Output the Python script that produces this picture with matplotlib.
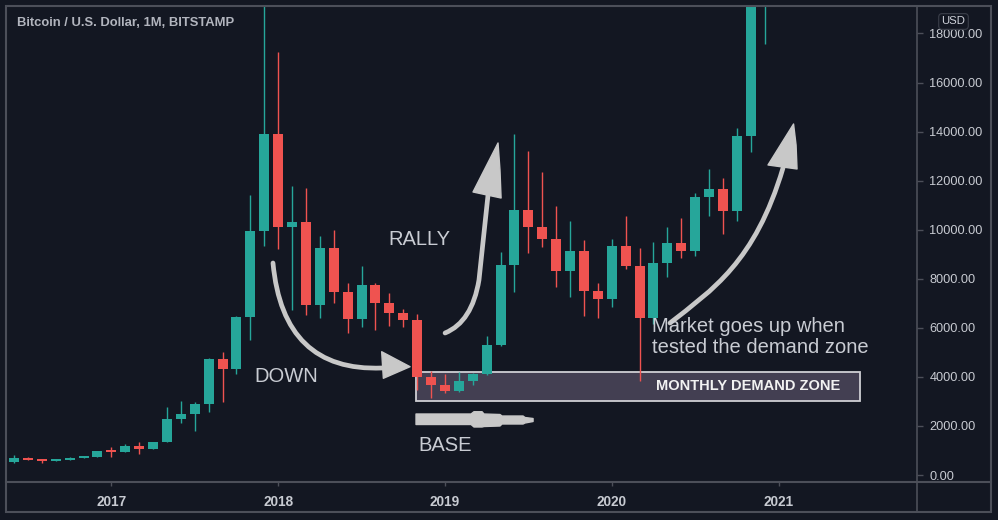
import matplotlib
matplotlib.use("Agg")
import matplotlib.pyplot as plt
from matplotlib.patches import Rectangle, Polygon, PathPatch
from matplotlib.path import Path
from matplotlib.lines import Line2D

# ---------------- data (monthly BTC/USD, Jun 2016 .. Dec 2020) ----------------
months = ["2016-06", "2016-07", "2016-08", "2016-09", "2016-10", "2016-11", "2016-12",
          "2017-01", "2017-02", "2017-03", "2017-04", "2017-05", "2017-06", "2017-07",
          "2017-08", "2017-09", "2017-10", "2017-11", "2017-12",
          "2018-01", "2018-02", "2018-03", "2018-04", "2018-05", "2018-06", "2018-07",
          "2018-08", "2018-09", "2018-10", "2018-11", "2018-12",
          "2019-01", "2019-02", "2019-03", "2019-04", "2019-05", "2019-06", "2019-07",
          "2019-08", "2019-09", "2019-10", "2019-11", "2019-12",
          "2020-01", "2020-02", "2020-03", "2020-04", "2020-05", "2020-06", "2020-07",
          "2020-08", "2020-09", "2020-10", "2020-11", "2020-12"]
opens = [510, 675, 620, 575, 610, 700, 745,
         970, 955, 1190, 1075, 1360, 2300, 2490,
         2880, 4730, 4340, 6450, 9950,
         13900, 10120, 10320, 6930, 9250, 7480, 6360,
         7740, 7010, 6590, 6320, 3990,
         3680, 3410, 3820, 4100, 5300, 8560, 10800,
         10090, 9610, 8300, 9150, 7520,
         7180, 9340, 8540, 6390, 8630, 9440, 9150,
         11340, 11650, 10780, 13800, 19700]
highs = [800, 720, 630, 640, 720, 760, 975,
         1150, 1250, 1340, 1365, 2780, 3000, 2960,
         4760, 5000, 6470, 11400, 19670,
         17250, 11790, 11710, 9760, 10000, 7810, 8520,
         7810, 7430, 6760, 6560, 4250,
         4110, 4200, 4140, 5660, 9100, 13900, 13220,
         12360, 10960, 10370, 9580, 7840,
         9610, 10560, 9240, 9510, 10120, 10460, 11480,
         12460, 12090, 14130, 19900, 29300]
lows = [490, 605, 470, 560, 600, 680, 740,
        750, 920, 860, 1060, 1350, 2100, 1810,
        2580, 2970, 4110, 5510, 9350,
        9220, 6730, 6520, 6390, 7000, 5780, 6050,
        5910, 6080, 6050, 3470, 3130,
        3340, 3390, 3670, 4060, 5270, 7440, 9040,
        9310, 7680, 7270, 6480, 6390,
        6840, 8390, 3850, 6150, 8080, 8830, 8930,
        10560, 9830, 10370, 13180, 17560]
closes = [675, 620, 575, 610, 700, 745, 970,
          955, 1190, 1075, 1360, 2300, 2490, 2880,
          4730, 4340, 6450, 9950, 13900,
          10120, 10320, 6930, 9250, 7480, 6360, 7740,
          7010, 6590, 6320, 3990, 3680,
          3410, 3820, 4100, 5300, 8560, 10800, 10090,
          9610, 8300, 9150, 7520, 7180,
          9340, 8540, 6390, 8630, 9440, 9150, 11340,
          11650, 10780, 13800, 19700, 28990]

year_ticks = ["2017-01", "2018-01", "2019-01", "2020-01", "2021-01"]
year_labels = ["2017", "2018", "2019", "2020", "2021"]
price_ticks = [0, 2000, 4000, 6000, 8000, 10000, 12000, 14000, 16000, 18000]

# demand zone (month-index range, price range)
zone_start, zone_end = 28.92, 60.86
zone_low, zone_high = 3016, 4200

# ---------------- style ----------------
BG = "#131722"
FRAME = "#4c4f59"
UP = "#26a69a"
DN = "#ef5350"
TXT = "#b2b5be"
ANN = "#c8c8c8"
LABEL = "#c9ccd3"

plt.rcParams["font.family"] = ["Liberation Sans", "DejaVu Sans"]

W, H = 998, 520
fig = plt.figure(figsize=(W / 100, H / 100), dpi=100, facecolor=BG)
ax = fig.add_axes([6 / W, (H - 482) / H, (917 - 6) / W, (482 - 6) / H])
ax.set_facecolor(BG)
ax.set_xlim(-0.576, 64.96)
ax.set_ylim(-285, 19119)
for s in ax.spines.values():
    s.set_visible(False)

# ---------------- candles ----------------
def month_index(m):
    y, mo = m.split("-")
    return (int(y) - 2016) * 12 + int(mo) - 6

xs = [month_index(m) for m in months]
body_w = 0.72
for x, o, h, l, c in zip(xs, opens, highs, lows, closes):
    col = UP if c >= o else DN
    ax.vlines(x, l, h, color=col, lw=1.0, zorder=3)
    bot = min(o, c)
    ht = max(abs(c - o), 60)
    ax.bar(x, ht, bottom=bot, width=body_w, color=col, edgecolor=col, lw=0, zorder=4)

# ---------------- demand zone ----------------
ax.add_patch(Rectangle((zone_start, zone_low), zone_end - zone_start, zone_high - zone_low,
                       facecolor="#433f52", edgecolor="#cfcfd4", lw=1.3, zorder=2))
ax.text((zone_start + zone_end) / 2 + 7.9, (zone_low + zone_high) / 2 + 40,
        "MONTHLY DEMAND ZONE", color="#f2f2f2", fontsize=10.5, fontweight="bold",
        ha="center", va="center", zorder=6)

# ---------------- annotation arrows ----------------
def curve(verts, codes, lw=3.4):
    ax.add_patch(PathPatch(Path(verts, codes), facecolor="none", edgecolor=ANN, lw=lw,
                           capstyle="round", joinstyle="round", zorder=7))

def head(pts):
    ax.add_patch(Polygon(pts, closed=True, facecolor=ANN, edgecolor=ANN, lw=1.0,
                         joinstyle="round", zorder=7))

# DOWN arrow
curve([(18.63, 8643), (19.35, 4199), (26.47, 4362)], [Path.MOVETO, Path.CURVE3, Path.CURVE3])
head([(26.45, 5026), (28.49, 4415), (26.57, 3942)])

# RALLY arrow
curve([(31.01, 5789), (32.95, 6237), (33.45, 7950), (34.10, 11415)],
      [Path.MOVETO, Path.CURVE3, Path.CURVE3, Path.LINETO])
head([(34.82, 13535), (33.02, 11537), (35.04, 11292), (34.96, 12434)])

# Market arrow
curve([(47.19, 6196), (50.22, 7542), (53.31, 8683), (55.32, 12515)],
      [Path.MOVETO, Path.CURVE4, Path.CURVE4, Path.CURVE4])
head([(56.08, 14309), (54.24, 12638), (56.33, 12475), (56.26, 13453)])

# BASE arrow (horizontal)
head([(28.92, 2487), (32.88, 2487), (33.09, 2580), (33.67, 2580), (33.81, 2487),
      (34.96, 2466), (35.11, 2405), (36.62, 2405), (36.76, 2344), (37.34, 2303),
      (37.34, 2181), (36.76, 2120), (36.62, 2079), (35.11, 2079), (34.96, 1998),
      (33.81, 1977), (33.67, 1957), (33.09, 1957), (32.88, 2059), (28.92, 2059)])

# ---------------- annotation texts ----------------
tkw = dict(color=LABEL, fontsize=14.5, ha="left", va="center", zorder=8)
ax.text(17.27, 4000, "DOWN", **tkw)
ax.text(26.9, 9620, "RALLY", **tkw)
ax.text(29.06, 1200, "BASE", **tkw)
ax.text(45.9, 5630, "Market goes up when\ntested the demand zone", linespacing=1.18, **tkw)

# ---------------- axes ----------------
ax.yaxis.tick_right()
ax.set_yticks(price_ticks)
ax.set_yticklabels([f"{v:.2f}" for v in price_ticks])
ax.tick_params(axis="y", length=4, width=1, color=FRAME, pad=5, labelsize=9.2, labelcolor="#c8cbd2")
ax.set_xticks([month_index(m) for m in year_ticks])
ax.set_xticklabels(year_labels)
ax.tick_params(axis="x", length=3, width=1, color=FRAME, pad=6, labelsize=9.8, labelcolor="#c8cbd2")
for lab in ax.get_xticklabels():
    lab.set_fontweight("bold")

# ---------------- frame ----------------
fig.add_artist(Rectangle((6 / W, 8 / H), 985 / W, 506 / H, transform=fig.transFigure,
                         fill=False, edgecolor=FRAME, lw=1.5))
fig.add_artist(Line2D([917 / W, 917 / W], [8 / H, 514 / H], transform=fig.transFigure,
                      color=FRAME, lw=1.2))
fig.add_artist(Line2D([6 / W, 991 / W], [(H - 482) / H, (H - 482) / H],
                      transform=fig.transFigure, color=FRAME, lw=1.5))

fig.text(17 / W, 1 - 23 / H, "Bitcoin / U.S. Dollar, 1M, BITSTAMP", fontsize=9.4,
         fontweight="bold", color=TXT, ha="left", va="center")
fig.text(953.5 / W, 1 - 21.5 / H, "USD", fontsize=8.2, color="#d1d4dc", ha="center", va="center",
         bbox=dict(boxstyle="round,pad=0.25,rounding_size=0.3", fc=BG, ec="#3b3f4a", lw=0.8),
         zorder=10)

fig.savefig("out.png", dpi=100, facecolor=BG)
